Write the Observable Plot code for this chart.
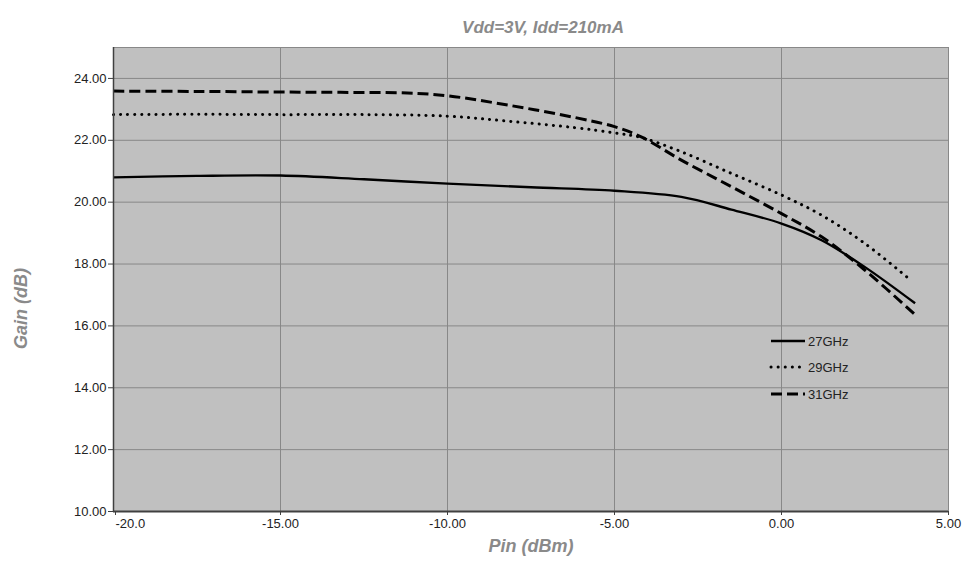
<!DOCTYPE html>
<html>
<head>
<meta charset="utf-8">
<script src="https://cdn.jsdelivr.net/npm/d3@7"></script>
<script src="https://cdn.jsdelivr.net/npm/@observablehq/plot@0.6"></script>
<style>
  html, body { margin: 0; padding: 0; background: #fff; }
  #wrap { position: relative; width: 965px; height: 562px; }
  #legend { position: absolute; left: 0; top: 0; }
</style>
</head>
<body>
<div id="wrap"></div>
<script>
const title = "Vdd=3V, Idd=210mA";
const xLabel = "Pin (dBm)";
const yLabel = "Gain (dB)";
const xTicks = [-20, -15, -10, -5, 0, 5];
const yTicks = [10, 12, 14, 16, 18, 20, 22, 24];
const seriesNames = ["27GHz", "29GHz", "31GHz"];

const pin27  = [-20, -17.5, -15, -12.5, -10, -7.5, -5, -3, -1.5, 0, 1.2, 2.5, 4];
const gain27 = [20.8, 20.85, 20.86, 20.74, 20.6, 20.48, 20.37, 20.17, 19.76, 19.31, 18.77, 17.9, 16.73];

const pin29  = [-20, -17.5, -15, -12.5, -10, -8.2, -6.2, -5, -4.2, -3, -1.5, 0, 1.2, 2.5, 3.9];
const gain29 = [22.83, 22.84, 22.83, 22.83, 22.78, 22.62, 22.41, 22.24, 22.09, 21.63, 20.93, 20.23, 19.58, 18.66, 17.45];

const pin31  = [-20, -17.5, -15, -13.2, -11.2, -10, -8.2, -6.2, -5, -4.2, -3, -1.5, 0, 1.2, 2.5, 4];
const gain31 = [23.59, 23.58, 23.56, 23.55, 23.53, 23.44, 23.14, 22.74, 22.44, 22.11, 21.36, 20.5, 19.63, 18.88, 17.8, 16.36];

const styles = [
  {stroke: "#000", strokeWidth: 2.4, dash: null, cap: "butt"},
  {stroke: "#000", strokeWidth: 3, dash: "0.1,7", cap: "round"},
  {stroke: "#000", strokeWidth: 3, dash: "11,5", cap: "butt"}
];

const toRows = (xs, ys) => xs.map((x, i) => ({x, y: ys[i]}));
const rows = [toRows(pin27, gain27), toRows(pin29, gain29), toRows(pin31, gain31)];

const tickFmtX = d => d === -20 ? "-20.0" : d.toFixed(2);
const FONT = "'Liberation Sans', Arial, sans-serif";

const chart = Plot.plot({
  width: 965,
  height: 562,
  marginLeft: 113,
  marginRight: 17,
  marginTop: 47,
  marginBottom: 51,
  style: {fontFamily: FONT, fontSize: "13px", color: "#222", background: "#fff"},
  x: {domain: [-20, 5], label: null},
  y: {domain: [10, 25], label: null},
  marks: [
    Plot.frame({fill: "#c0c0c0", stroke: null}),
    Plot.gridX(xTicks.slice(1), {stroke: "#888", strokeOpacity: 1, strokeWidth: 1}),
    Plot.gridY(yTicks.slice(1).concat([25]), {stroke: "#888", strokeOpacity: 1, strokeWidth: 1}),
    ...rows.map((r, i) => Plot.line(r, {
      x: "x", y: "y", curve: "catmull-rom",
      stroke: styles[i].stroke, strokeWidth: styles[i].strokeWidth,
      strokeDasharray: styles[i].dash, strokeLinecap: styles[i].cap
    })),
    Plot.ruleY([10], {stroke: "#404040", strokeWidth: 2}),
    Plot.ruleX([-20], {stroke: "#404040", strokeWidth: 1.5}),
    Plot.axisX({ticks: xTicks.slice(1), tickFormat: tickFmtX, tickSize: 4, tickPadding: 3, fill: "#222", stroke: "#404040", fontSize: 13, label: null}),
    Plot.axisX({ticks: [-20], tickFormat: tickFmtX, tickSize: 4, tickPadding: 3, fill: "#222", stroke: "#404040", fontSize: 13, textAnchor: "start", dx: 2, label: null}),
    Plot.axisY({ticks: yTicks, tickFormat: d => d.toFixed(2), tickSize: 5, tickPadding: 2, fill: "#222", stroke: "#404040", fontSize: 13, label: null}),
    Plot.text([title], {frameAnchor: "top", dy: -27, dx: 12, fontSize: 17, fontWeight: "bold", fontStyle: "italic", fill: "#8a8a8a"}),
    Plot.text([xLabel], {frameAnchor: "bottom", dy: 40, fontSize: 18, fontWeight: "bold", fontStyle: "italic", fill: "#8a8a8a"}),
    Plot.text([yLabel], {frameAnchor: "left", textAnchor: "middle", dx: -92, dy: 29, rotate: -90, fontSize: 18, fontWeight: "bold", fontStyle: "italic", fill: "#8a8a8a"})
  ]
});
document.getElementById("wrap").appendChild(chart);

// Legend overlay
const ns = "http://www.w3.org/2000/svg";
const leg = document.createElementNS(ns, "svg");
leg.setAttribute("id", "legend");
leg.setAttribute("width", 965);
leg.setAttribute("height", 562);
leg.style.pointerEvents = "none";
const legY = [341, 367, 394];
seriesNames.forEach((name, i) => {
  const ln = document.createElementNS(ns, "line");
  ln.setAttribute("x1", 771); ln.setAttribute("x2", 805);
  ln.setAttribute("y1", legY[i]); ln.setAttribute("y2", legY[i]);
  ln.setAttribute("stroke", styles[i].stroke);
  ln.setAttribute("stroke-width", styles[i].strokeWidth);
  ln.setAttribute("stroke-linecap", styles[i].cap);
  if (styles[i].dash) ln.setAttribute("stroke-dasharray", styles[i].dash);
  leg.appendChild(ln);
  const t = document.createElementNS(ns, "text");
  t.setAttribute("x", 808); t.setAttribute("y", legY[i]);
  t.setAttribute("dy", "0.35em");
  t.setAttribute("font-family", FONT);
  t.setAttribute("font-size", "13");
  t.setAttribute("fill", "#222");
  t.textContent = name;
  leg.appendChild(t);
});
document.getElementById("wrap").appendChild(leg);
</script>
</body>
</html>
